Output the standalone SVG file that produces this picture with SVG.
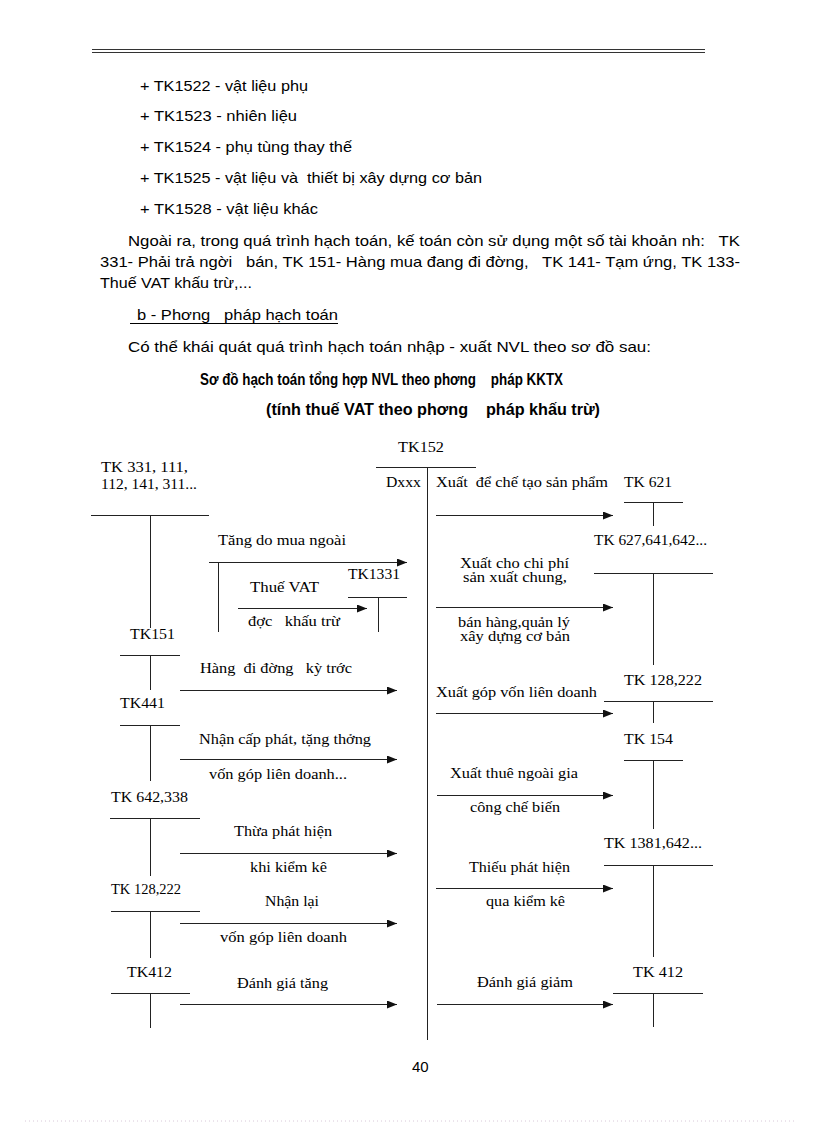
<svg xmlns="http://www.w3.org/2000/svg" width="816" height="1123" viewBox="0 0 816 1123">
<style>
text{white-space:pre}
.b{font-family:"Liberation Sans",Arial,sans-serif;font-size:15px;fill:#000}
.t{font-family:"Liberation Sans",Arial,sans-serif;font-size:16px;font-weight:bold;fill:#000}
.d{font-family:"Liberation Serif","Times New Roman",serif;font-size:14px;fill:#000}
.ln{stroke:#222;stroke-width:1;fill:none}
.ar{stroke:#222;stroke-width:1;fill:none;marker-end:url(#ah)}
</style>
<defs>
<marker id="ah" markerUnits="userSpaceOnUse" markerWidth="11" markerHeight="8" refX="10" refY="4" orient="auto">
<path d="M0,0 L10,4 L0,8 Z" fill="#111"/>
</marker>
</defs>
<rect width="816" height="1123" fill="#fff"/>
<g id="page">
<line x1="92" y1="49.5" x2="705" y2="49.5" stroke="#333" stroke-width="1"/>
<line x1="92" y1="52.5" x2="705" y2="52.5" stroke="#333" stroke-width="1"/>
<text class="b" x="140" y="91" textLength="168" lengthAdjust="spacingAndGlyphs">+ TK1522 - vật liệu phụ</text>
<text class="b" x="140" y="121" textLength="157" lengthAdjust="spacingAndGlyphs">+ TK1523 - nhiên liệu</text>
<text class="b" x="140" y="152" textLength="212" lengthAdjust="spacingAndGlyphs">+ TK1524 - phụ tùng thay thế</text>
<text class="b" x="140" y="183" textLength="342" lengthAdjust="spacingAndGlyphs">+ TK1525 - vật liệu và  thiết bị xây dựng cơ bản</text>
<text class="b" x="140" y="214" textLength="178" lengthAdjust="spacingAndGlyphs">+ TK1528 - vật liệu khác</text>
<text class="b" x="128" y="246" textLength="612" lengthAdjust="spacingAndGlyphs">Ngoài ra, trong quá trình hạch toán, kế toán còn sử dụng một số tài khoản nh:   TK</text>
<text class="b" x="100" y="267" textLength="640" lengthAdjust="spacingAndGlyphs">331- Phải trả ngời   bán, TK 151- Hàng mua đang đi đờng,   TK 141- Tạm ứng, TK 133-</text>
<text class="b" x="100" y="288" textLength="152" lengthAdjust="spacingAndGlyphs">Thuế VAT khấu trừ,...</text>
<text class="b" x="137" y="320" textLength="201" lengthAdjust="spacingAndGlyphs">b - Phơng   pháp hạch toán</text>
<line x1="130" y1="323.5" x2="338" y2="323.5" stroke="#000" stroke-width="1"/>
<text class="b" x="128" y="352" textLength="523" lengthAdjust="spacingAndGlyphs">Có thể khái quát quá trình hạch toán nhập - xuất NVL theo sơ đồ sau:</text>
<text class="t" x="200" y="385" textLength="363" lengthAdjust="spacingAndGlyphs">Sơ đồ hạch toán tổng hợp NVL theo phơng    pháp KKTX</text>
<text class="t" x="266" y="415" textLength="334" lengthAdjust="spacingAndGlyphs">(tính thuế VAT theo phơng    pháp khấu trừ)</text>
<text class="b" x="412" y="1072" font-size="14">40</text>
<line x1="25" y1="1121" x2="795" y2="1121" stroke="#d8c8d8" stroke-width="1" stroke-dasharray="1 3"/>
</g>
<g id="tk152">
<text class="d" x="398" y="452" textLength="46" lengthAdjust="spacingAndGlyphs">TK152</text>
<line class="ln" x1="376" y1="467.5" x2="476" y2="467.5"/>
<line class="ln" x1="427.5" y1="467" x2="427.5" y2="1040"/>
<text class="d" x="386" y="487" textLength="35" lengthAdjust="spacingAndGlyphs">Dxxx</text>
</g>
<g id="tk331">
<text class="d" x="101" y="472" textLength="87" lengthAdjust="spacingAndGlyphs">TK 331, 111,</text>
<text class="d" x="101" y="489" textLength="96" lengthAdjust="spacingAndGlyphs">112, 141, 311...</text>
<line class="ln" x1="91" y1="515.5" x2="209" y2="515.5"/>
<line class="ln" x1="150.5" y1="515" x2="150.5" y2="628"/>
</g>
<g id="tk1331">
<text class="d" x="348" y="579" textLength="52" lengthAdjust="spacingAndGlyphs">TK1331</text>
<line class="ln" x1="348" y1="597.5" x2="407" y2="597.5"/>
<line class="ln" x1="378.5" y1="597" x2="378.5" y2="632"/>
</g>
<g id="tk151">
<text class="d" x="130" y="639" textLength="45" lengthAdjust="spacingAndGlyphs">TK151</text>
<line class="ln" x1="120" y1="655.5" x2="180" y2="655.5"/>
<line class="ln" x1="150.5" y1="655" x2="150.5" y2="690"/>
</g>
<g id="tk441">
<text class="d" x="120" y="708" textLength="45" lengthAdjust="spacingAndGlyphs">TK441</text>
<line class="ln" x1="120" y1="725.5" x2="180" y2="725.5"/>
<line class="ln" x1="150.5" y1="725" x2="150.5" y2="781"/>
</g>
<g id="tk642">
<text class="d" x="111" y="802" textLength="77" lengthAdjust="spacingAndGlyphs">TK 642,338</text>
<line class="ln" x1="110" y1="818.5" x2="200" y2="818.5"/>
<line class="ln" x1="150.5" y1="818" x2="150.5" y2="876"/>
</g>
<g id="tk128l">
<text class="d" x="111" y="894" textLength="70" lengthAdjust="spacingAndGlyphs">TK 128,222</text>
<line class="ln" x1="111" y1="911.5" x2="200" y2="911.5"/>
<line class="ln" x1="150.5" y1="911" x2="150.5" y2="958"/>
</g>
<g id="tk412l">
<text class="d" x="127" y="977" textLength="45" lengthAdjust="spacingAndGlyphs">TK412</text>
<line class="ln" x1="111" y1="993.5" x2="190" y2="993.5"/>
<line class="ln" x1="150.5" y1="993" x2="150.5" y2="1028"/>
</g>
<g id="tk621">
<text class="d" x="624" y="487" textLength="48" lengthAdjust="spacingAndGlyphs">TK 621</text>
<line class="ln" x1="624" y1="502.5" x2="683" y2="502.5"/>
<line class="ln" x1="653.5" y1="502" x2="653.5" y2="526"/>
</g>
<g id="tk627">
<text class="d" x="594" y="545" textLength="113" lengthAdjust="spacingAndGlyphs">TK 627,641,642...</text>
<line class="ln" x1="594" y1="573.5" x2="713" y2="573.5"/>
<line class="ln" x1="653.5" y1="573" x2="653.5" y2="665"/>
</g>
<g id="tk128r">
<text class="d" x="624" y="685" textLength="78" lengthAdjust="spacingAndGlyphs">TK 128,222</text>
<line class="ln" x1="604" y1="701.5" x2="713" y2="701.5"/>
<line class="ln" x1="653.5" y1="701" x2="653.5" y2="723"/>
</g>
<g id="tk154">
<text class="d" x="624" y="744" textLength="49" lengthAdjust="spacingAndGlyphs">TK 154</text>
<line class="ln" x1="624" y1="760.5" x2="683" y2="760.5"/>
<line class="ln" x1="653.5" y1="760" x2="653.5" y2="829"/>
</g>
<g id="tk1381">
<text class="d" x="604" y="848" textLength="98" lengthAdjust="spacingAndGlyphs">TK 1381,642...</text>
<line class="ln" x1="604" y1="865.5" x2="713" y2="865.5"/>
<line class="ln" x1="653.5" y1="865" x2="653.5" y2="957"/>
</g>
<g id="tk412r">
<text class="d" x="633" y="977" textLength="50" lengthAdjust="spacingAndGlyphs">TK 412</text>
<line class="ln" x1="613" y1="993.5" x2="703" y2="993.5"/>
<line class="ln" x1="653.5" y1="993" x2="653.5" y2="1027"/>
</g>
<g id="connectors">
<line class="ar" x1="209" y1="562.5" x2="407" y2="562.5"/>
<line class="ln" x1="218.5" y1="562" x2="218.5" y2="632"/>
<line class="ar" x1="238" y1="608.5" x2="367" y2="608.5"/>
<line class="ar" x1="180" y1="690.5" x2="397" y2="690.5"/>
<line class="ar" x1="180" y1="759.5" x2="397" y2="759.5"/>
<line class="ar" x1="180" y1="853.5" x2="397" y2="853.5"/>
<line class="ar" x1="180" y1="923.5" x2="397" y2="923.5"/>
<line class="ar" x1="180" y1="1004.5" x2="397" y2="1004.5"/>
<line class="ar" x1="436" y1="515.5" x2="613" y2="515.5"/>
<line class="ar" x1="436" y1="607.5" x2="613" y2="607.5"/>
<line class="ar" x1="436" y1="713.5" x2="613" y2="713.5"/>
<line class="ar" x1="437" y1="795.5" x2="613" y2="795.5"/>
<line class="ar" x1="436" y1="888.5" x2="613" y2="888.5"/>
<line class="ar" x1="437" y1="1004.5" x2="613" y2="1004.5"/>
</g>
<g id="labels">
<text class="d" x="218" y="545" textLength="128" lengthAdjust="spacingAndGlyphs">Tăng do mua ngoài</text>
<text class="d" x="250" y="592" textLength="69" lengthAdjust="spacingAndGlyphs">Thuế VAT</text>
<text class="d" x="248" y="626" textLength="92" lengthAdjust="spacingAndGlyphs">đợc   khấu trừ</text>
<text class="d" x="200" y="673" textLength="152" lengthAdjust="spacingAndGlyphs">Hàng  đi đờng   kỳ trớc</text>
<text class="d" x="199" y="744" textLength="172" lengthAdjust="spacingAndGlyphs">Nhận cấp phát, tặng thởng</text>
<text class="d" x="209" y="779" textLength="138" lengthAdjust="spacingAndGlyphs">vốn góp liên doanh...</text>
<text class="d" x="234" y="836" textLength="98" lengthAdjust="spacingAndGlyphs">Thừa phát hiện</text>
<text class="d" x="250" y="872" textLength="77" lengthAdjust="spacingAndGlyphs">khi kiểm kê</text>
<text class="d" x="265" y="906" textLength="54" lengthAdjust="spacingAndGlyphs">Nhận lại</text>
<text class="d" x="220" y="942" textLength="127" lengthAdjust="spacingAndGlyphs">vốn góp liên doanh</text>
<text class="d" x="237" y="988" textLength="91" lengthAdjust="spacingAndGlyphs">Đánh giá tăng</text>
<text class="d" x="436" y="487" textLength="172" lengthAdjust="spacingAndGlyphs">Xuất  để chế tạo sản phẩm</text>
<text class="d" x="460" y="568" textLength="109" lengthAdjust="spacingAndGlyphs">Xuất cho chi phí</text>
<text class="d" x="463" y="582" textLength="104" lengthAdjust="spacingAndGlyphs">sản xuất chung,</text>
<text class="d" x="458" y="627" textLength="112" lengthAdjust="spacingAndGlyphs">bán hàng,quản lý</text>
<text class="d" x="460" y="641" textLength="110" lengthAdjust="spacingAndGlyphs">xây dựng cơ bản</text>
<text class="d" x="436" y="697" textLength="161" lengthAdjust="spacingAndGlyphs">Xuất góp vốn liên doanh</text>
<text class="d" x="450" y="778" textLength="128" lengthAdjust="spacingAndGlyphs">Xuất thuê ngoài gia</text>
<text class="d" x="470" y="812" textLength="90" lengthAdjust="spacingAndGlyphs">công chế biến</text>
<text class="d" x="469" y="872" textLength="101" lengthAdjust="spacingAndGlyphs">Thiếu phát hiện</text>
<text class="d" x="486" y="906" textLength="79" lengthAdjust="spacingAndGlyphs">qua kiểm kê</text>
<text class="d" x="477" y="987" textLength="96" lengthAdjust="spacingAndGlyphs">Đánh giá giảm</text>
</g>
</svg>
